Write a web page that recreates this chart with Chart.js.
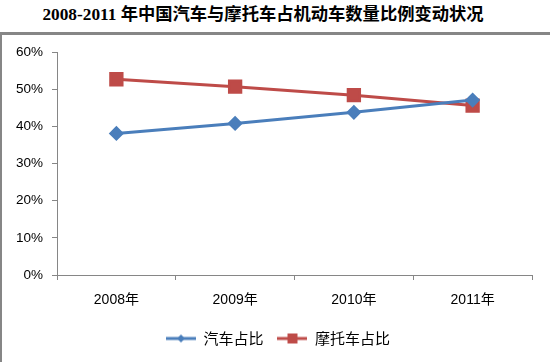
<!DOCTYPE html>
<html>
<head>
<meta charset="utf-8">
<title>汽车与摩托车占比</title>
<script src="https://cdn.jsdelivr.net/npm/chart.js"></script>
<style>
  html, body { margin: 0; padding: 0; background: #fff; }
  #wrap { position: relative; width: 550px; height: 362px; overflow: hidden; }
  #title { position: absolute; left: -12px; top: 0; width: 550px; text-align: center; line-height: 20px;
           font: bold 17.3px "Liberation Serif", "Noto Sans CJK SC", serif; color: #000; }
  #frame { position: absolute; left: 0; top: 32px; width: 600px; height: 400px;
           border-top: 3px solid #868686; border-left: 2px solid #868686; }
  #box { position: absolute; left: 0; top: 35px; width: 550px; height: 327px; }
</style>
</head>
<body>
<div id="wrap">
  <div id="title">2008-2011 年中国汽车与摩托车占机动车数量比例变动状况</div>
  <div id="frame"></div>
  <div id="box"><canvas id="c" width="550" height="327"></canvas></div>
</div>
<script>
    const years = ['2008年', '2009年', '2010年', '2011年'];
    const carShare = [0.381, 0.408, 0.438, 0.471];
    const motoShare = [0.527, 0.507, 0.484, 0.456];
    const seriesNames = ['汽车占比', '摩托车占比'];

    const blue = '#4a7ebb';
    const red = '#be4b48';

    // little legend icons: line with the marker in the middle
    function legendIcon(color, shape) {
        const cv = document.createElement('canvas');
        cv.width = 30; cv.height = 12;
        const g = cv.getContext('2d');
        g.strokeStyle = color; g.lineWidth = 3;
        g.beginPath(); g.moveTo(0, 6); g.lineTo(30, 6); g.stroke();
        g.fillStyle = color;
        if (shape === 'diamond') {
            g.beginPath(); g.moveTo(15, 2); g.lineTo(19, 6); g.lineTo(15, 10); g.lineTo(11, 6); g.closePath(); g.fill();
        } else {
            g.fillRect(10, 1, 10, 10);
        }
        return cv;
    }
    const icons = [legendIcon(blue, 'diamond'), legendIcon(red, 'square')];

    // legend in the original sits a bit right of the canvas centre
    const shiftLegend = {
        id: 'shiftLegend',
        afterLayout(chart) {
            chart.legend.left += 12;
            chart.legend.right += 12;
        }
    };

    const ctx = document.getElementById('c').getContext('2d');
    new Chart(ctx, {
        type: 'line',
        data: {
            labels: years,
            datasets: [{
                label: seriesNames[0],
                data: carShare,
                borderColor: blue,
                backgroundColor: blue,
                borderWidth: 3,
                pointStyle: 'rectRot',
                pointRadius: 5.5,
                pointHoverRadius: 5.5,
                tension: 0
            }, {
                label: seriesNames[1],
                data: motoShare,
                borderColor: red,
                backgroundColor: red,
                borderWidth: 3,
                pointStyle: 'rect',
                pointRadius: 8,
                pointHoverRadius: 8,
                tension: 0
            }]
        },
        options: {
            responsive: false,
            animation: false,
            layout: { padding: { left: 0, right: 18, top: 13, bottom: 6 } },
            scales: {
                x: {
                    offset: true,
                    afterFit: s => { s.height = 42; },
                    grid: {
                        offset: true,
                        drawOnChartArea: false,
                        tickLength: 5,
                        color: '#868686'
                    },
                    border: { color: '#868686' },
                    ticks: {
                        color: '#000',
                        padding: 12,
                        font: { family: '"Liberation Sans", "Noto Sans CJK SC", sans-serif', size: 14 }
                    }
                },
                y: {
                    min: 0,
                    max: 0.6,
                    afterFit: s => { s.width = 57; },
                    grid: {
                        drawOnChartArea: false,
                        tickLength: 5,
                        color: '#868686'
                    },
                    border: { color: '#868686' },
                    ticks: {
                        stepSize: 0.1,
                        color: '#000',
                        padding: 9,
                        font: { family: '"Liberation Sans", sans-serif', size: 13.5 },
                        callback: v => Math.round(v * 100) + '%'
                    }
                }
            },
            plugins: {
                tooltip: { enabled: false },
                legend: {
                    position: 'bottom',
                    labels: {
                        usePointStyle: true,
                        pointStyleWidth: 30,
                        padding: 14,
                        color: '#000',
                        font: { family: '"Noto Sans CJK SC", sans-serif', size: 15 },
                        generateLabels: chart => chart.data.datasets.map((ds, i) => ({
                            text: ds.label,
                            pointStyle: icons[i],
                            fillStyle: ds.borderColor,
                            strokeStyle: ds.borderColor,
                            lineWidth: 0,
                            datasetIndex: i,
                            hidden: false
                        }))
                    }
                }
            }
        },
        plugins: [shiftLegend]
    });
</script>
</body>
</html>
